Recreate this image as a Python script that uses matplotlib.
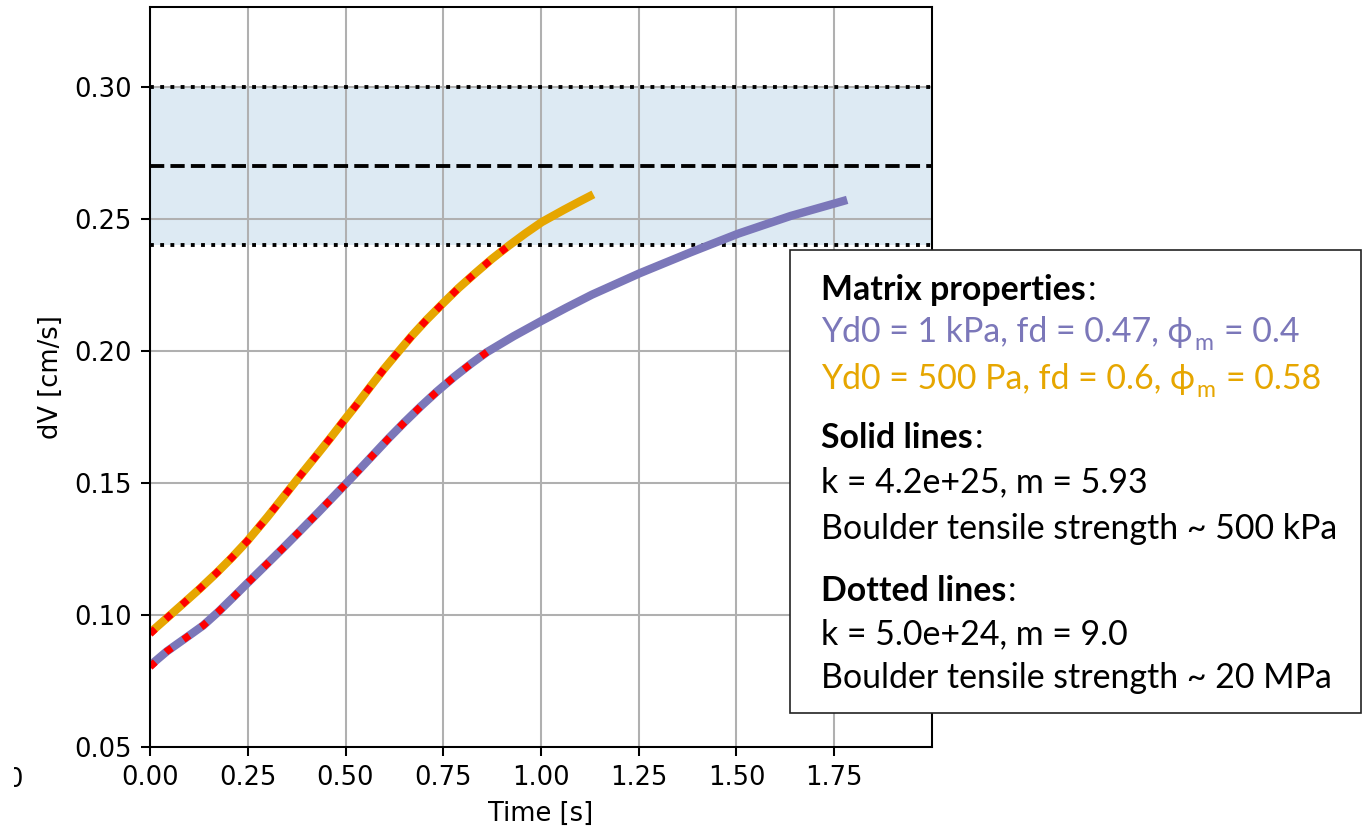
import matplotlib
matplotlib.use('Agg')
import matplotlib.pyplot as plt
from matplotlib.patches import Rectangle
from matplotlib.transforms import Bbox, TransformedBbox

# ---------------- data ----------------
# solid lines (k = 4.2e+25, m = 5.93)
orange_t = [0.0, 0.043, 0.085, 0.128, 0.171, 0.21, 0.249, 0.30, 0.35, 0.39, 0.4265, 0.46,
            0.493, 0.529, 0.563, 0.597, 0.634, 0.670, 0.708, 0.749, 0.789, 0.830, 0.874,
            0.917, 0.96, 1.002, 1.058, 1.10, 1.134]
orange_dv = [0.0932, 0.0988, 0.1043, 0.1100, 0.1160, 0.1218, 0.1280, 0.1370, 0.1463,
             0.1538, 0.1605, 0.1667, 0.1730, 0.1797, 0.1863, 0.1928, 0.1994, 0.2057,
             0.2118, 0.2179, 0.2237, 0.2291, 0.2347, 0.2397, 0.2444, 0.2487, 0.2533,
             0.2566, 0.2592]

purple_t = [0.0, 0.043, 0.085, 0.136, 0.175, 0.213, 0.249, 0.30, 0.341, 0.38, 0.4265,
            0.463, 0.5, 0.536, 0.574, 0.612, 0.652, 0.693, 0.735, 0.778, 0.823, 0.862,
            0.93, 1.0, 1.065, 1.13, 1.252, 1.382, 1.504, 1.638, 1.75, 1.783]
purple_dv = [0.0808, 0.0862, 0.0906, 0.0960, 0.1012, 0.1067, 0.1120, 0.1194, 0.1254,
             0.1312, 0.1382, 0.1438, 0.1495, 0.1551, 0.1611, 0.1671, 0.1731, 0.1790,
             0.1847, 0.1901, 0.1953, 0.1995, 0.2055, 0.2112, 0.2163, 0.2212, 0.2293,
             0.2372, 0.2443, 0.2510, 0.2557, 0.2571]

# dotted lines (k = 5.0e+24, m = 9.0)
orange_dot_t = [0.0, 0.043, 0.085, 0.128, 0.171, 0.21, 0.249, 0.30, 0.35, 0.39, 0.4265,
                0.46, 0.493, 0.529, 0.563, 0.597, 0.634, 0.670, 0.708, 0.749, 0.789,
                0.830, 0.874, 0.917]
orange_dot_dv = [0.0928, 0.0988, 0.1043, 0.1100, 0.1160, 0.1218, 0.1280, 0.1370, 0.1463,
                 0.1538, 0.1605, 0.1667, 0.1730, 0.1797, 0.1863, 0.1928, 0.1994, 0.2057,
                 0.2118, 0.2179, 0.2237, 0.2291, 0.2347, 0.2397]
purple_dot_t = [0.0, 0.043, 0.085, 0.136, 0.175, 0.213, 0.249, 0.30, 0.341, 0.38, 0.4265,
                0.463, 0.5, 0.536, 0.574, 0.612, 0.652, 0.693, 0.735, 0.778, 0.823, 0.862]
purple_dot_dv = [0.0803, 0.0862, 0.0906, 0.0960, 0.1012, 0.1067, 0.1120, 0.1194, 0.1254,
                 0.1312, 0.1382, 0.1438, 0.1495, 0.1551, 0.1611, 0.1671, 0.1731, 0.1790,
                 0.1847, 0.1901, 0.1953, 0.1995]

band_low, band_mid, band_high = 0.24, 0.27, 0.30
xticks = [0.0, 0.25, 0.5, 0.75, 1.0, 1.25, 1.5, 1.75]
yticks = [0.05, 0.10, 0.15, 0.20, 0.25, 0.30]

PURPLE = '#7B77B9'
ORANGE = '#E6A600'

# ---------------- style ----------------
W, H = 1363, 835
S = 1.85
plt.rcParams.update({
    'font.size': 18.5,
    'axes.linewidth': 0.8 * S,
    'xtick.major.size': 3.5 * S, 'ytick.major.size': 3.5 * S,
    'xtick.major.width': 0.8 * S, 'ytick.major.width': 0.8 * S,
    'xtick.major.pad': 3.5 * S, 'ytick.major.pad': 3.5 * S,
    'axes.labelpad': 4 * S,
    'grid.linewidth': 0.8 * S,
})

fig = plt.figure(figsize=(W / 100, H / 100), dpi=100)
ax = fig.add_axes([150 / W, 1 - 747 / H, (932 - 150) / W, (747 - 7.3) / H])

ax.axhspan(band_low, band_high, color='tab:blue', alpha=0.15, lw=0)
ax.axhline(band_low, color='k', ls=':', lw=1.5 * S)
ax.axhline(band_high, color='k', ls=':', lw=1.5 * S)
ax.axhline(band_mid, color='k', ls='--', lw=1.5 * S)

ax.plot(purple_t, purple_dv, color=PURPLE, lw=6, solid_capstyle='butt')
ax.plot(orange_t, orange_dv, color=ORANGE, lw=6, solid_capstyle='butt')
ax.plot(purple_dot_t, purple_dot_dv, color='red', lw=5.2, linestyle=(0, (1, 2.0)))
ax.plot(orange_dot_t, orange_dot_dv, color='red', lw=5.2, linestyle=(0, (1, 2.0)))

ax.set_xlim(0, 2.0)
ax.set_ylim(0.05, 0.33)
ax.set_xticks(xticks)
ax.set_yticks(yticks)
ax.grid(True)
ax.set_xlabel('Time [s]')
ax.set_ylabel('dV [cm/s]')

# partially cropped tick label at the far left
t0 = fig.text(23 / W, 1 - 780 / H, '0', ha='right', va='center', fontsize=18.5)
t0.set_clip_box(TransformedBbox(Bbox([[14 / W, 0], [1, 1]]), fig.transFigure))
t0.set_clip_on(True)

# ---------------- annotation box ----------------
box = Rectangle((790 / W, 1 - 713 / H), (1361 - 790) / W, (713 - 250) / H,
                transform=fig.transFigure, facecolor='white', edgecolor='#222222',
                lw=1.2, zorder=5)
fig.add_artist(box)

renderer = fig.canvas.get_renderer()
FAM = ['Lato', 'DejaVu Sans']


def width_of(t):
    return t.get_window_extent(renderer).width


tmp = fig.text(0, 0, 'Boulder tensile strength ~ 500 kPa', fontsize=20, family=FAM)
fs = 20 * 517 / width_of(tmp)
tmp.remove()
a = fig.text(0, 0, 'x x', fontsize=fs, family=FAM)
b = fig.text(0, 0, 'xx', fontsize=fs, family=FAM)
SP = width_of(a) - width_of(b)
a.remove()
b.remove()

X0 = 821


def place(yb, runs):
    x = X0
    for text, color, weight, sub in runs:
        if text.startswith(' '):
            x += SP
            text = text.lstrip(' ')
        size = fs * 0.68 if sub else fs
        y = yb + (8 if sub else 0)
        t = fig.text(x / W, 1 - y / H, text, fontsize=size, family=FAM, color=color,
                     weight=weight, ha='left', va='baseline', zorder=6)
        x += width_of(t) + 1.8


K = 'black'
place(300, [('Matrix properties', K, 'bold', False), (':', K, 'normal', False)])
place(342, [('Yd0 = 1 kPa, fd = 0.47, ϕ', PURPLE, 'normal', False),
            ('m', PURPLE, 'normal', True), (' = 0.4', PURPLE, 'normal', False)])
place(389, [('Yd0 = 500 Pa, fd = 0.6, ϕ', ORANGE, 'normal', False),
            ('m', ORANGE, 'normal', True), (' = 0.58', ORANGE, 'normal', False)])
place(448, [('Solid lines', K, 'bold', False), (':', K, 'normal', False)])
place(492, [('k = 4.2e+25, m = 5.93', K, 'normal', False)])
place(539, [('Boulder tensile strength ~ 500 kPa', K, 'normal', False)])
place(601, [('Dotted lines', K, 'bold', False), (':', K, 'normal', False)])
place(644, [('k = 5.0e+24, m = 9.0', K, 'normal', False)])
place(688, [('Boulder tensile strength ~ 20 MPa', K, 'normal', False)])

fig.savefig('out.png', dpi=100)
